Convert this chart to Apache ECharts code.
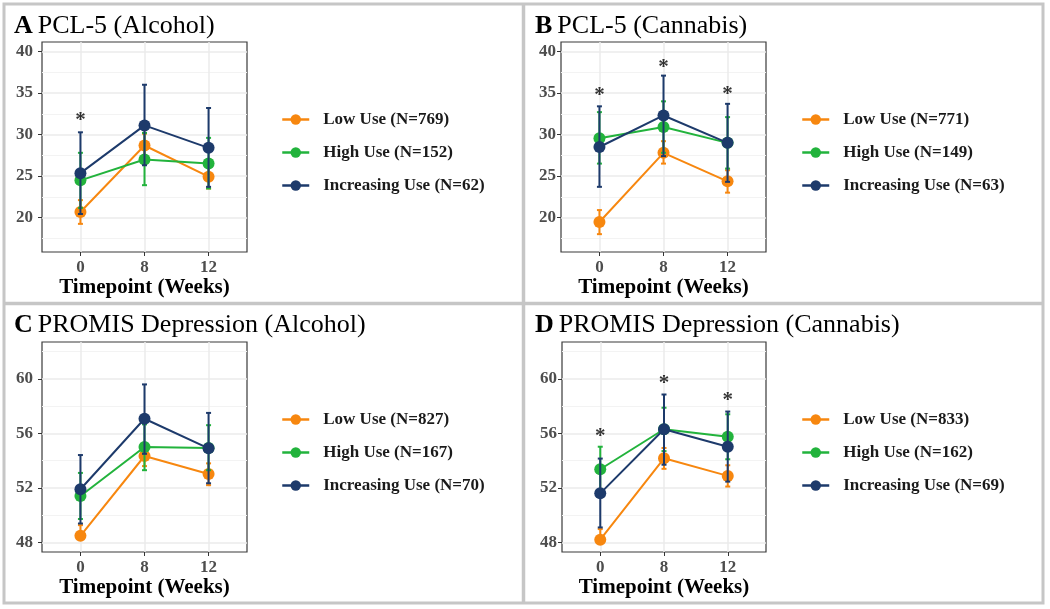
<!DOCTYPE html>
<html><head><meta charset="utf-8">
<script src="https://cdn.jsdelivr.net/npm/echarts@6/dist/echarts.min.js"></script>
<style>html,body{margin:0;padding:0;background:#fff}#c{width:1050px;height:609px}</style>
</head><body><div id="c"></div>
<script>
// ---------- data ----------
const timepoints = ['0', '8', '12'];
const groupNames = ['Low Use', 'High Use', 'Increasing Use'];

// Panel A: PCL-5 (Alcohol)
const aN = [769, 152, 62];
const aLowMean = [20.67, 28.68, 24.92], aLowLo = [19.24, 27.2, 23.5], aLowHi = [22.1, 30.1, 26.3];
const aHighMean = [24.48, 27.0, 26.5], aHighLo = [21.16, 23.9, 23.5], aHighHi = [27.8, 30.2, 29.6];
const aIncMean = [25.35, 31.1, 28.4], aIncLo = [20.43, 26.3, 23.7], aIncHi = [30.27, 36.0, 33.2];
const aStarX = ['0'], aStarY = [32.2];

// Panel B: PCL-5 (Cannabis)
const bN = [771, 149, 63];
const bLowMean = [19.47, 27.8, 24.36], bLowLo = [18.0, 26.5, 23.0], bLowHi = [20.9, 29.2, 25.7];
const bHighMean = [29.55, 30.9, 29.0], bHighLo = [26.5, 27.8, 25.9], bHighHi = [32.7, 34.0, 32.1];
const bIncMean = [28.5, 32.3, 29.0], bIncLo = [23.7, 27.4, 24.3], bIncHi = [33.4, 37.1, 33.7];
const bStarX = ['0', '8', '12'], bStarY = [35.2, 38.6, 35.3];

// Panel C: PROMIS Depression (Alcohol)
const cN = [827, 167, 70];
const cLowMean = [48.49, 54.34, 53.02], cLowLo = [null, 53.6, 52.2], cLowHi = [49.27, 55.1, 53.8];
const cHighMean = [51.41, 55.0, 54.93], cHighLo = [49.72, 53.3, 53.3], cHighHi = [53.1, 56.66, 56.6];
const cIncMean = [51.9, 57.07, 54.9], cIncLo = [49.39, 54.5, 52.34], cIncHi = [54.41, 59.59, 57.5];
const cStarX = [], cStarY = [];

// Panel D: PROMIS Depression (Cannabis)
const dN = [833, 162, 69];
const dLowMean = [48.2, 54.17, 52.88], dLowLo = [null, 53.4, 52.1], dLowHi = [48.98, 54.93, 53.66];
const dHighMean = [53.37, 56.3, 55.76], dHighLo = [51.7, 54.7, 54.1], dHighHi = [55.02, 57.88, 57.4];
const dIncMean = [51.6, 56.3, 55.02], dIncLo = [49.1, 53.7, 52.46], dIncHi = [54.15, 58.85, 57.6];
const dStarX = ['0', '8', '12'], dStarY = [56.05, 59.95, 58.73];

// tick labels
const pclTicks = [20, 25, 30, 35, 40];
const pclMinorTicks = [17.5, 22.5, 27.5, 32.5, 37.5];
const promisTicks = [48, 52, 56, 60];
const promisMinorTicks = [50, 54, 58, 62];

// ---------- styling / layout ----------
const colors = ['#F7870F', '#22B33C', '#1D3A6B'];
const SERIF = '"Liberation Serif", "Times New Roman", serif';

const panels = [
  { letter: 'A', title: 'PCL-5 (Alcohol)', N: aN,
    means: [aLowMean, aHighMean, aIncMean], los: [aLowLo, aHighLo, aIncLo], his: [aLowHi, aHighHi, aIncHi],
    starX: aStarX, starY: aStarY, ymin: 15.85, ymax: 41.15, ticks: pclTicks, minor: pclMinorTicks,
    grid: { left: 42, top: 42, width: 205, height: 210 }, legendPos: { left: 281, top: 111 },
    titlePos: { left: 14, top: 13 }, labelMargin: 9 },
  { letter: 'B', title: 'PCL-5 (Cannabis)', N: bN,
    means: [bLowMean, bHighMean, bIncMean], los: [bLowLo, bHighLo, bIncLo], his: [bLowHi, bHighHi, bIncHi],
    starX: bStarX, starY: bStarY, ymin: 15.85, ymax: 41.15, ticks: pclTicks, minor: pclMinorTicks,
    grid: { left: 561, top: 42, width: 205, height: 210 }, legendPos: { left: 801, top: 111 },
    titlePos: { left: 535, top: 13 }, labelMargin: 5 },
  { letter: 'C', title: 'PROMIS Depression (Alcohol)', N: cN,
    means: [cLowMean, cHighMean, cIncMean], los: [cLowLo, cHighLo, cIncLo], his: [cLowHi, cHighHi, cIncHi],
    starX: cStarX, starY: cStarY, ymin: 47.3, ymax: 62.7, ticks: promisTicks, minor: promisMinorTicks,
    grid: { left: 42, top: 342, width: 205, height: 210 }, legendPos: { left: 281, top: 411 },
    titlePos: { left: 14, top: 312 }, labelMargin: 9 },
  { letter: 'D', title: 'PROMIS Depression (Cannabis)', N: dN,
    means: [dLowMean, dHighMean, dIncMean], los: [dLowLo, dHighLo, dIncLo], his: [dLowHi, dHighHi, dIncHi],
    starX: dStarX, starY: dStarY, ymin: 47.3, ymax: 62.7, ticks: promisTicks, minor: promisMinorTicks,
    grid: { left: 562, top: 342, width: 204, height: 210 }, legendPos: { left: 801, top: 411 },
    titlePos: { left: 535, top: 312 }, labelMargin: 5 }
];

const xPos = t => timepoints.indexOf(t) + 1;

const option = {
  animation: false,
  backgroundColor: '#fff',
  title: [], grid: [], xAxis: [], yAxis: [], legend: [], series: [],
  graphic: [
    { type: 'rect', shape: { x: 4, y: 4, width: 1039, height: 599 }, style: { fill: 'none', stroke: '#C6C6C6', lineWidth: 3 }, z: 100 },
    { type: 'line', shape: { x1: 523.5, y1: 4, x2: 523.5, y2: 603 }, style: { stroke: '#C6C6C6', lineWidth: 3.5 }, z: 100 },
    { type: 'line', shape: { x1: 4, y1: 303.5, x2: 1043, y2: 303.5 }, style: { stroke: '#C6C6C6', lineWidth: 3.5 }, z: 100 }
  ]
};

panels.forEach((p, pi) => {
  option.title.push({
    text: '{b|' + p.letter + '} {n|' + p.title + '}',
    left: p.titlePos.left, top: p.titlePos.top, padding: 0,
    textStyle: { rich: {
      b: { fontFamily: SERIF, fontSize: 26, fontWeight: 'bold', color: '#000' },
      n: { fontFamily: SERIF, fontSize: 26, fontWeight: 'normal', color: '#000' } } }
  });
  option.grid.push(Object.assign({ show: true, borderColor: '#3A3A3A', borderWidth: 1.2, backgroundColor: 'transparent' }, p.grid));
  const yi = option.yAxis.length;
  option.xAxis.push({
    type: 'value', gridIndex: pi, min: 0.4, max: 3.6,
    name: 'Timepoint (Weeks)', nameLocation: 'middle', nameGap: 19,
    nameTextStyle: { fontFamily: SERIF, fontSize: 21, fontWeight: 'bold', color: '#000', lineHeight: 21, verticalAlign: 'top' },
    axisLine: { show: false },
    axisTick: { show: true, length: 4, customValues: [1, 2, 3], lineStyle: { color: '#333', width: 1 } },
    axisLabel: { customValues: [1, 2, 3], margin: 7, formatter: v => timepoints[Math.round(v) - 1],
      fontFamily: SERIF, fontSize: 17, fontWeight: 'bold', color: '#4D4D4D' },
    splitLine: { show: true, lineStyle: { color: '#EBEBEB', width: 1.5 } }
  });
  option.yAxis.push({
    type: 'value', gridIndex: pi, min: p.ymin, max: p.ymax, position: 'left',
    axisLine: { show: false },
    axisTick: { show: true, length: 4, customValues: p.ticks, lineStyle: { color: '#333', width: 1 } },
    axisLabel: { customValues: p.ticks, margin: p.labelMargin, fontFamily: SERIF, fontSize: 17, fontWeight: 'bold', color: '#4D4D4D' },
    splitLine: { show: true, lineStyle: { color: '#EBEBEB', width: 1.5 } }
  });
  option.yAxis.push({
    type: 'value', gridIndex: pi, min: p.ymin, max: p.ymax, position: 'left',
    axisLine: { show: false }, axisLabel: { show: false },
    axisTick: { show: false, customValues: p.minor },
    splitLine: { show: true, lineStyle: { color: '#F3F3F3', width: 1 } }
  });
  const names = groupNames.map((g, gi) => g + ' (N=' + p.N[gi] + ')');
  option.legend.push({
    data: names, orient: 'vertical', left: p.legendPos.left, top: p.legendPos.top,
    itemWidth: 27, itemHeight: 13, itemGap: 16, padding: 0,
    lineStyle: { width: 2.5 },
    textStyle: { fontFamily: SERIF, fontSize: 17, fontWeight: 'bold', color: '#1A1A1A', lineHeight: 17, padding: [0, 0, 0, 9] }
  });
  groupNames.forEach((g, gi) => {
    const col = colors[gi];
    option.series.push({
      type: 'line', name: names[gi], xAxisIndex: pi, yAxisIndex: yi,
      data: p.means[gi].map((v, k) => [k + 1, v]),
      symbol: 'circle', symbolSize: 12, showSymbol: true,
      itemStyle: { color: col }, lineStyle: { color: col, width: 2 }, z: 3 + gi
    });
    option.series.push({
      type: 'custom', name: names[gi] + ' err', xAxisIndex: pi, yAxisIndex: yi,
      data: p.means[gi].map((v, k) => {
        const lo = p.los[gi][k];
        return [k + 1, lo == null ? v : lo, p.his[gi][k], lo == null ? 0 : 1];
      }),
      encode: { x: 0, y: [1, 2] }, z: 3 + gi,
      renderItem: (params, api) => {
        const x = api.value(0), lo = api.value(1), hi = api.value(2), hasLo = api.value(3);
        const a = api.coord([x, lo]), b = api.coord([x, hi]);
        const st = { stroke: col, lineWidth: 2, fill: 'none' };
        const kids = [
          { type: 'line', shape: { x1: a[0], y1: a[1], x2: b[0], y2: b[1] }, style: st },
          { type: 'line', shape: { x1: b[0] - 2.5, y1: b[1], x2: b[0] + 2.5, y2: b[1] }, style: st }
        ];
        if (hasLo) kids.push({ type: 'line', shape: { x1: a[0] - 2.5, y1: a[1], x2: a[0] + 2.5, y2: a[1] }, style: st });
        return { type: 'group', children: kids };
      }
    });
  });
  if (p.starX.length) {
    option.series.push({
      type: 'scatter', name: 'sig' + pi, xAxisIndex: pi, yAxisIndex: yi,
      data: p.starX.map((t, k) => [xPos(t), p.starY[k]]),
      symbolSize: 1, itemStyle: { color: 'rgba(0,0,0,0)' }, z: 10,
      label: { show: true, position: 'inside', offset: [0, 4], formatter: '*', fontFamily: SERIF, fontSize: 21, fontWeight: 'bold', color: '#000' }
    });
  }
});

const chart = echarts.init(document.getElementById('c'), null, { renderer: 'canvas' });
chart.setOption(option);
</script>
</body></html>
